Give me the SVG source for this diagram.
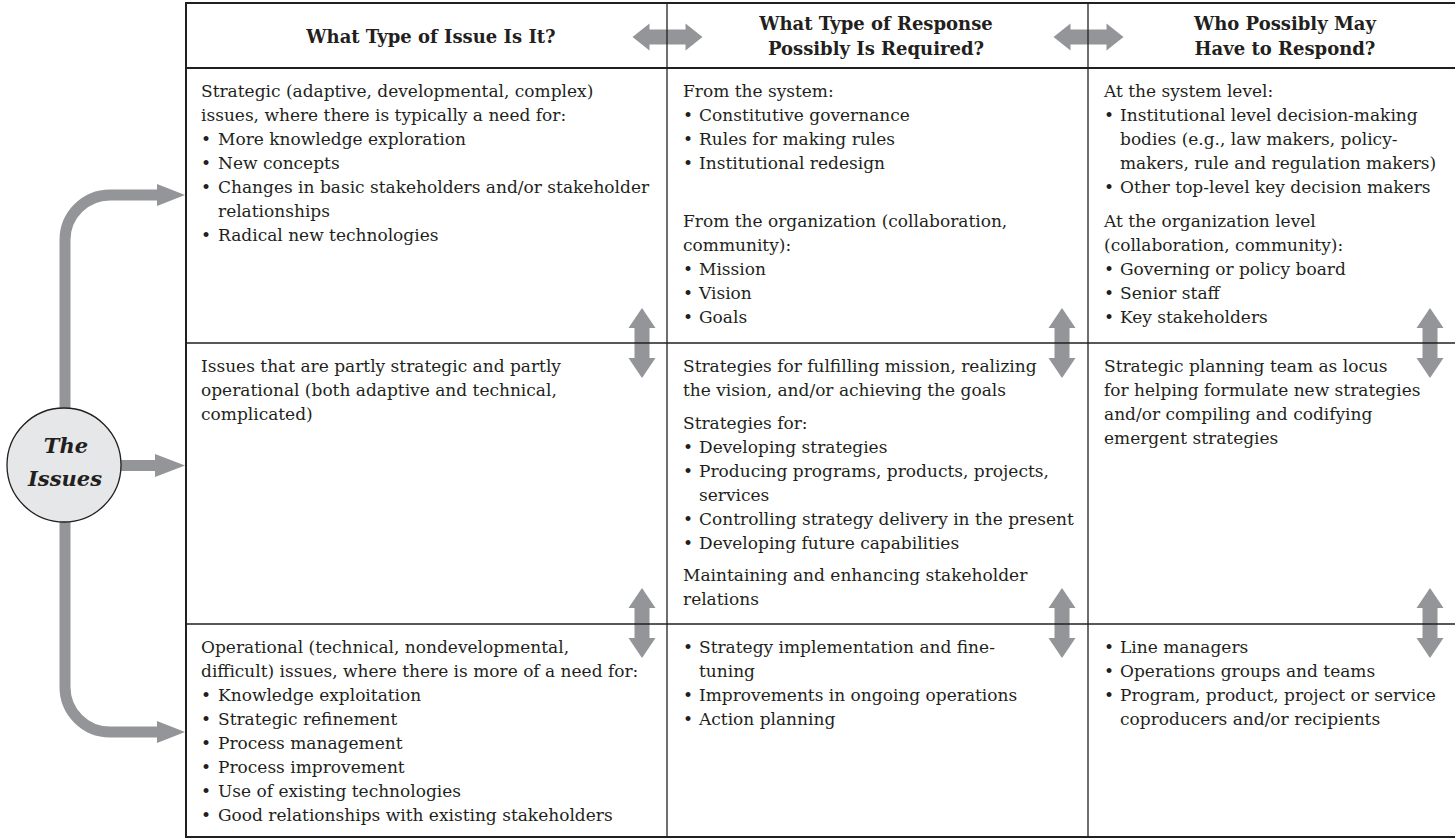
<svg xmlns="http://www.w3.org/2000/svg" width="1455" height="840" viewBox="0 0 1455 840">
  <style>
    .t { font-family: "DejaVu Serif", "Liberation Serif", serif; font-size: 17px; fill: #231f20; }
    .h { font-family: "DejaVu Serif", "Liberation Serif", serif; font-size: 18px; font-weight: bold; fill: #231f20; text-anchor: middle; }
    .issue { font-family: "DejaVu Serif", "Liberation Serif", serif; font-size: 21px; font-weight: bold; font-style: italic; fill: #231f20; text-anchor: middle; }
    .grid { stroke: #231f20; fill: none; }
    .flow { fill: #939598; stroke: none; }
    .band { fill: none; stroke: #939598; stroke-width: 11; }
  </style>
  <defs>
    <!-- vertical double-headed block arrow, centred on origin, 70 long -->
    <polygon id="dbl-v" class="flow" points="0,-35 13.5,-15 7.5,-15 7.5,15 13.5,15 0,35 -13.5,15 -7.5,15 -7.5,-15 -13.5,-15"/>
    <!-- horizontal double-headed block arrow, centred on origin, 70 long -->
    <polygon id="dbl-h" class="flow" points="-35,0 -18,-13.5 -18,-7.5 18,-7.5 18,-13.5 35,0 18,13.5 18,7.5 -18,7.5 -18,13.5"/>
  </defs>

  <!-- connectors: the issue circle feeding the three rows, and the two-way links between cells -->
  <g id="connectors">
    <path class="band" d="M65,466 V240 A45,45 0 0 1 110,195 H160"/>
    <polygon class="flow" points="157,184 185,195 157,206"/>
    <path class="band" d="M65,466 V687 A45,45 0 0 0 110,732 H160"/>
    <polygon class="flow" points="157,721 185,732 157,743"/>
    <rect class="flow" x="115" y="460" width="44" height="11"/>
    <polygon class="flow" points="155,454 185,465.5 155,477"/>

    <use href="#dbl-h" x="667.5" y="37"/>
    <use href="#dbl-h" x="1088.5" y="37"/>
    <use href="#dbl-v" x="642" y="343"/>
    <use href="#dbl-v" x="642" y="623"/>
    <use href="#dbl-v" x="1062" y="343"/>
    <use href="#dbl-v" x="1062" y="623"/>
    <use href="#dbl-v" x="1430" y="343"/>
    <use href="#dbl-v" x="1430" y="623"/>
  </g>

  <g id="the-issues">
    <circle cx="64" cy="465" r="57" fill="#e6e7e8" stroke="#231f20" stroke-width="1.3"/>
    <text class="issue" x="66" y="453">The</text>
    <text class="issue" x="65" y="486">Issues</text>
  </g>

  <!-- table rules; the table runs on past the right edge -->
  <g id="table">
    <path class="grid" d="M1456,3 H186 V837 H1456" stroke-width="2"/>
    <line class="grid" x1="186" y1="68" x2="1455" y2="68" stroke-width="2"/>
    <line class="grid" x1="186" y1="343" x2="1455" y2="343" stroke-width="1.6"/>
    <line class="grid" x1="186" y1="624" x2="1455" y2="624" stroke-width="1.6"/>
    <line class="grid" x1="667" y1="3" x2="667" y2="837" stroke-width="1.3"/>
    <line class="grid" x1="1088" y1="3" x2="1088" y2="837" stroke-width="1.3"/>
  </g>

  <g id="header-issue">
    <text class="h" x="431" y="43">What Type of Issue Is It?</text>
  </g>
  <g id="header-response">
    <text class="h" x="876" y="30">What Type of Response</text>
    <text class="h" x="876" y="55">Possibly Is Required?</text>
  </g>
  <g id="header-who">
    <text class="h" x="1285" y="30">Who Possibly May</text>
    <text class="h" x="1285" y="55">Have to Respond?</text>
  </g>

  <!-- row 1: strategic -->
  <g id="issue-strategic" class="t">
    <text x="201" y="97">Strategic (adaptive, developmental, complex)</text>
    <text x="201" y="121">issues, where there is typically a need for:</text>
    <text x="201" y="145">•</text><text x="218" y="145">More knowledge exploration</text>
    <text x="201" y="169">•</text><text x="218" y="169">New concepts</text>
    <text x="201" y="193">•</text><text x="218" y="193">Changes in basic stakeholders and/or stakeholder</text>
    <text x="218" y="217">relationships</text>
    <text x="201" y="241">•</text><text x="218" y="241">Radical new technologies</text>
  </g>
  <g id="response-strategic" class="t">
    <text x="683" y="97">From the system:</text>
    <text x="683" y="121">•</text><text x="699" y="121">Constitutive governance</text>
    <text x="683" y="145">•</text><text x="699" y="145">Rules for making rules</text>
    <text x="683" y="169">•</text><text x="699" y="169">Institutional redesign</text>
    <text x="683" y="227">From the organization (collaboration,</text>
    <text x="683" y="251">community):</text>
    <text x="683" y="275">•</text><text x="699" y="275">Mission</text>
    <text x="683" y="299">•</text><text x="699" y="299">Vision</text>
    <text x="683" y="323">•</text><text x="699" y="323">Goals</text>
  </g>
  <g id="who-strategic" class="t">
    <text x="1104" y="97">At the system level:</text>
    <text x="1104" y="121">•</text><text x="1120" y="121">Institutional level decision-making</text>
    <text x="1120" y="145">bodies (e.g., law makers, policy-</text>
    <text x="1120" y="169">makers, rule and regulation makers)</text>
    <text x="1104" y="193">•</text><text x="1120" y="193">Other top-level key decision makers</text>
    <text x="1104" y="227">At the organization level</text>
    <text x="1104" y="251">(collaboration, community):</text>
    <text x="1104" y="275">•</text><text x="1120" y="275">Governing or policy board</text>
    <text x="1104" y="299">•</text><text x="1120" y="299">Senior staff</text>
    <text x="1104" y="323">•</text><text x="1120" y="323">Key stakeholders</text>
  </g>

  <!-- row 2: partly strategic, partly operational -->
  <g id="issue-mixed" class="t">
    <text x="201" y="372">Issues that are partly strategic and partly</text>
    <text x="201" y="396">operational (both adaptive and technical,</text>
    <text x="201" y="420">complicated)</text>
  </g>
  <g id="response-mixed" class="t">
    <text x="683" y="372">Strategies for fulfilling mission, realizing</text>
    <text x="683" y="396">the vision, and/or achieving the goals</text>
    <text x="683" y="429">Strategies for:</text>
    <text x="683" y="453">•</text><text x="699" y="453">Developing strategies</text>
    <text x="683" y="477">•</text><text x="699" y="477">Producing programs, products, projects,</text>
    <text x="699" y="501">services</text>
    <text x="683" y="525">•</text><text x="699" y="525">Controlling strategy delivery in the present</text>
    <text x="683" y="549">•</text><text x="699" y="549">Developing future capabilities</text>
    <text x="683" y="581">Maintaining and enhancing stakeholder</text>
    <text x="683" y="605">relations</text>
  </g>
  <g id="who-mixed" class="t">
    <text x="1104" y="372">Strategic planning team as locus</text>
    <text x="1104" y="396">for helping formulate new strategies</text>
    <text x="1104" y="420">and/or compiling and codifying</text>
    <text x="1104" y="444">emergent strategies</text>
  </g>

  <!-- row 3: operational -->
  <g id="issue-operational" class="t">
    <text x="201" y="653">Operational (technical, nondevelopmental,</text>
    <text x="201" y="677">difficult) issues, where there is more of a need for:</text>
    <text x="201" y="701">•</text><text x="218" y="701">Knowledge exploitation</text>
    <text x="201" y="725">•</text><text x="218" y="725">Strategic refinement</text>
    <text x="201" y="749">•</text><text x="218" y="749">Process management</text>
    <text x="201" y="773">•</text><text x="218" y="773">Process improvement</text>
    <text x="201" y="797">•</text><text x="218" y="797">Use of existing technologies</text>
    <text x="201" y="821">•</text><text x="218" y="821">Good relationships with existing stakeholders</text>
  </g>
  <g id="response-operational" class="t">
    <text x="683" y="653">•</text><text x="699" y="653">Strategy implementation and fine-</text>
    <text x="699" y="677">tuning</text>
    <text x="683" y="701">•</text><text x="699" y="701">Improvements in ongoing operations</text>
    <text x="683" y="725">•</text><text x="699" y="725">Action planning</text>
  </g>
  <g id="who-operational" class="t">
    <text x="1104" y="653">•</text><text x="1120" y="653">Line managers</text>
    <text x="1104" y="677">•</text><text x="1120" y="677">Operations groups and teams</text>
    <text x="1104" y="701">•</text><text x="1120" y="701">Program, product, project or service</text>
    <text x="1120" y="725">coproducers and/or recipients</text>
  </g>
</svg>
